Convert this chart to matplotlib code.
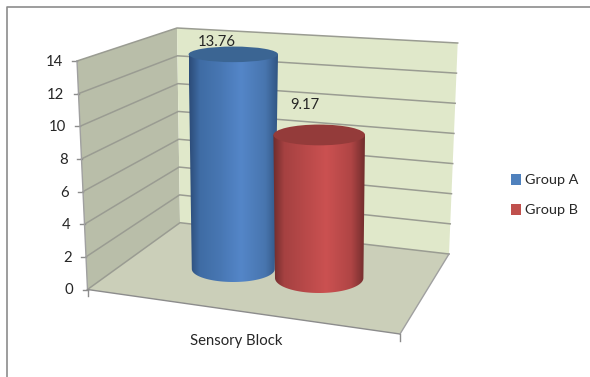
import numpy as np
import matplotlib
matplotlib.use('Agg')
import matplotlib.pyplot as plt
from matplotlib.colors import LinearSegmentedColormap
from matplotlib.patches import Ellipse, Patch, Polygon

plt.rcParams['font.family'] = ['Lato', 'DejaVu Sans']

category = 'Sensory Block'
groups = ['Group A', 'Group B']
values = [13.76, 9.17]
y_ticks = [0, 2, 4, 6, 8, 10, 12, 14]

# corners of the fake 3d box in pixels, as (at 0, at ymax)
Y_MAX = 14
FRONT = ((87.5, 289.5), (77, 61))
CORNER = ((180, 222.7), (177, 28))
RIGHT = ((449, 254), (457.7, 43))
FLOOR_FRONT_RIGHT = (400, 334)
PX_PER_UNIT = 15.6
FONT = 10.7
TEXT = '#262626'

# cx, base y, rx at top, rx at base, ry at top, ry at base
cylinders = [(233.3, 269, 44.7, 41.5, 7.8, 13),
             (319.2, 278, 45.8, 44.2, 10.4, 15)]
body_stops = [['#2c4c78', '#3f6ca4', '#4877b3', '#5486c8', '#4875ae', '#2f5380'],
              ['#6e2c2c', '#a54141', '#b84949', '#cb5151', '#b04545', '#722d2d']]
top_colors = ['#3b6593', '#943b3a']
legend_colors = ['#4f81bd', '#c0504d']


def wall_point(edge, v):
    t = v / Y_MAX
    return (edge[0][0] + t * (edge[1][0] - edge[0][0]),
            edge[0][1] + t * (edge[1][1] - edge[0][1]))


def draw_cylinder(ax, geom, value, stops, top_color, z):
    cx, base_y, rx_top, rx_base, ry_top, ry_base = geom
    top_y = base_y - value * PX_PER_UNIT
    t = np.linspace(np.pi, 0, 60)
    bottom_x = cx + rx_base * np.cos(t)
    bottom_y = base_y + ry_base * np.sin(t)
    xs = np.concatenate([[cx - rx_top], bottom_x, [cx + rx_top]])
    ys = np.concatenate([[top_y], bottom_y, [top_y]])
    outline = Polygon(np.column_stack([xs, ys]), closed=True, fc='none', ec='none', zorder=z)
    ax.add_patch(outline)

    cmap = LinearSegmentedColormap.from_list('body', list(zip([0, .12, .35, .58, .85, 1], stops)))
    shade = np.linspace(0, 1, 256).reshape(1, -1)
    im = ax.imshow(shade, cmap=cmap, aspect='auto', interpolation='bilinear', zorder=z,
                   extent=(cx - rx_top, cx + rx_top, base_y + ry_base, top_y))
    im.set_clip_path(outline)

    ax.add_patch(Ellipse((cx, top_y), 2 * rx_top, 2 * ry_top, fc=top_color, ec='none', zorder=z + .1))
    return top_y


fig = plt.figure(figsize=(5.9, 3.77), dpi=100)
ax = fig.add_axes([0, 0, 1, 1])

# outer chart frame
ax.plot([6.5, 6.5, 590], [377, 6.5, 6.5], color='#8c8c8c', lw=1.2, zorder=1)

# walls and floor
ax.add_patch(Polygon([FRONT[0], FRONT[1], CORNER[1], CORNER[0]], fc='#b9bea9', ec='none', zorder=2))
ax.add_patch(Polygon([CORNER[0], CORNER[1], RIGHT[1], RIGHT[0]], fc='#e0e8ca', ec='none', zorder=2))
ax.add_patch(Polygon([FRONT[0], CORNER[0], RIGHT[0], FLOOR_FRONT_RIGHT], fc='#cbcfb9', ec='none', zorder=2))

# gridlines and y ticks
for v in y_ticks:
    fx, fy = wall_point(FRONT, v)
    cx, cy = wall_point(CORNER, v)
    rx, ry = wall_point(RIGHT, v)
    ax.plot([fx, cx, rx], [fy, cy, ry], color='#9a9c92', lw=1.1, zorder=3)
    ax.plot([fx - 5, fx], [fy, fy], color='#8c8c8c', lw=1, zorder=3)
    ax.text(fx - 14, fy + 1, str(v), ha='right', va='center', fontsize=FONT, color=TEXT, zorder=6)

# axis edges
ax.plot([FRONT[0][0], FRONT[1][0]], [FRONT[0][1], FRONT[1][1]], color='#a0a0a0', lw=1, zorder=3)
ax.plot([FRONT[0][0], FLOOR_FRONT_RIGHT[0]], [FRONT[0][1], FLOOR_FRONT_RIGHT[1]], color='#8c8c8c', lw=1, zorder=3)
ax.plot([FLOOR_FRONT_RIGHT[0], RIGHT[0][0]], [FLOOR_FRONT_RIGHT[1], RIGHT[0][1]], color='#a0a0a0', lw=1, zorder=3)
ax.plot([FRONT[0][0], FRONT[0][0]], [FRONT[0][1], FRONT[0][1] + 6.5], color='#8c8c8c', lw=1, zorder=3)
ax.plot([FLOOR_FRONT_RIGHT[0], FLOOR_FRONT_RIGHT[0]], [FLOOR_FRONT_RIGHT[1], FLOOR_FRONT_RIGHT[1] + 6.5], color='#8c8c8c', lw=1, zorder=3)

tops = []
for i, value in enumerate(values):
    tops.append(draw_cylinder(ax, cylinders[i], value, body_stops[i], top_colors[i], 4 + i))

# value labels sit a little above each cylinder
ax.text(216.5, tops[0] - 12, '%.2f' % values[0], ha='center', va='center', fontsize=FONT, color=TEXT, zorder=7)
ax.text(304.5, tops[1] - 29.5, '%.2f' % values[1], ha='center', va='center', fontsize=FONT, color=TEXT, zorder=7)

ax.text(236, 341, category, ha='center', va='center', fontsize=FONT, color=TEXT)

handles = [Patch(fc=c, ec='none') for c in legend_colors]
ax.legend(handles, groups, loc='center left', bbox_to_anchor=(510.5, 195), bbox_transform=ax.transData,
          frameon=False, fontsize=10.4, handlelength=.72, handleheight=.8, handletextpad=.3,
          labelspacing=1.2, borderpad=0, borderaxespad=0, labelcolor=TEXT)

ax.set_xlim(0, 590)
ax.set_ylim(377, 0)
ax.axis('off')

plt.savefig('out.png', dpi=100)
